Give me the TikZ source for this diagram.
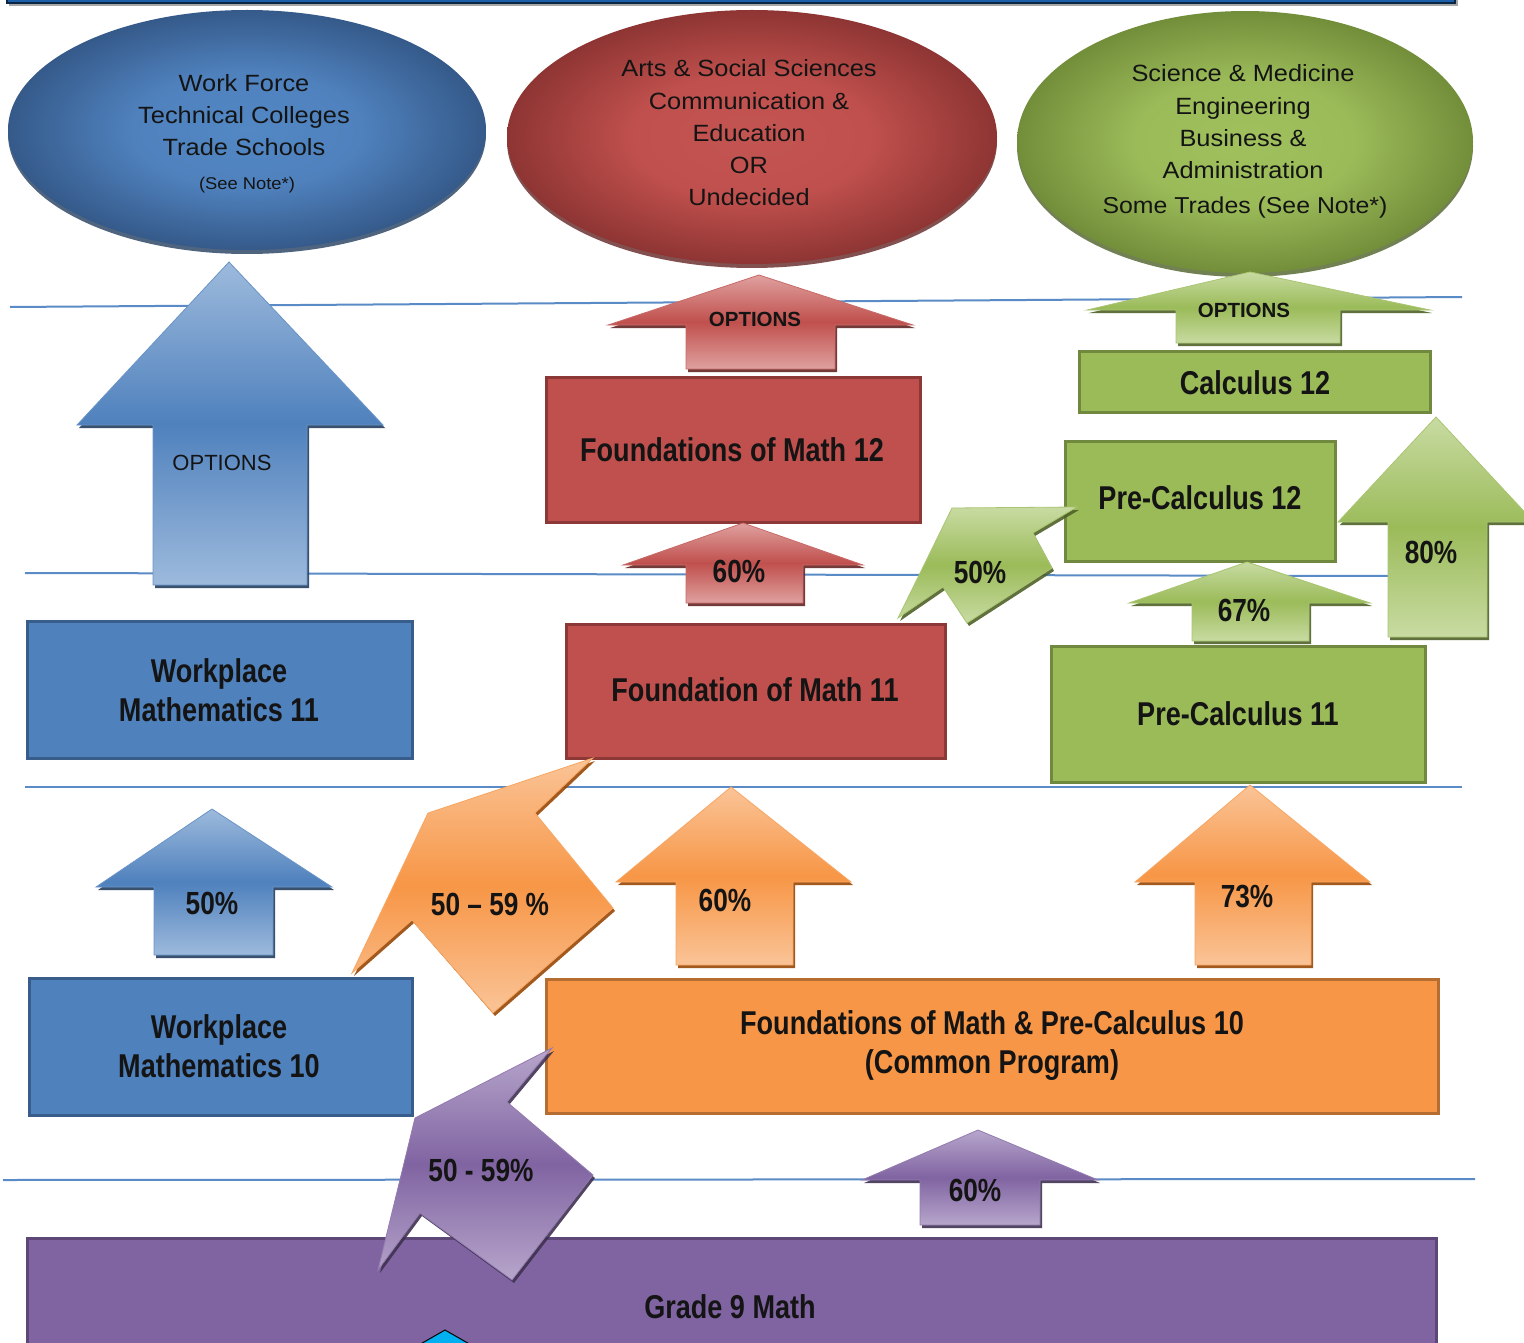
\documentclass[tikz,border=0pt]{standalone}
\usepackage{fontspec}
\setmainfont{Liberation Sans}
\newfontfamily\narrowfont[FakeStretch=0.82]{Liberation Sans}
\newfontfamily\widefont[FakeStretch=1.08]{Liberation Sans}
\usetikzlibrary{shadows}
\definecolor{bLight}{HTML}{9DBADC}
\definecolor{bBase}{HTML}{4F81BD}
\definecolor{bDark}{HTML}{243F60}
\definecolor{bBorder}{HTML}{385D8A}
\definecolor{rLight}{HTML}{DFA19F}
\definecolor{rBase}{HTML}{C0504D}
\definecolor{rDark}{HTML}{632523}
\definecolor{rBorder}{HTML}{8C3836}
\definecolor{gLight}{HTML}{C8DBA2}
\definecolor{gBase}{HTML}{9BBB59}
\definecolor{gDark}{HTML}{4F6228}
\definecolor{gBorder}{HTML}{71893F}
\definecolor{oLight}{HTML}{FAC497}
\definecolor{oBase}{HTML}{F79646}
\definecolor{oDark}{HTML}{974806}
\definecolor{oBorder}{HTML}{B66D31}
\definecolor{pLight}{HTML}{B7A6CB}
\definecolor{pBase}{HTML}{8064A2}
\definecolor{pDark}{HTML}{3F3151}
\definecolor{pBorder}{HTML}{5C4776}
\definecolor{lineblue}{HTML}{5B8BC6}
\definecolor{txt}{HTML}{141414}
\definecolor{cyanish}{HTML}{00B0F0}
\definecolor{barblue}{HTML}{1A5FA8}
\definecolor{barborder}{HTML}{0B2545}
\definecolor{ebIn}{HTML}{5288C4}
\definecolor{ebOut}{HTML}{355A8A}
\definecolor{erIn}{HTML}{C25451}
\definecolor{erOut}{HTML}{8E3533}
\definecolor{egIn}{HTML}{A0C05E}
\definecolor{egOut}{HTML}{738E3A}
\pgfdeclareradialshading{ellB}{\pgfpoint{0bp}{0bp}}{color(0bp)=(ebIn); color(12bp)=(bBase); color(25bp)=(ebOut); color(50bp)=(ebOut)}
\pgfdeclareradialshading{ellR}{\pgfpoint{0bp}{0bp}}{color(0bp)=(erIn); color(12bp)=(rBase); color(25bp)=(erOut); color(50bp)=(erOut)}
\pgfdeclareradialshading{ellG}{\pgfpoint{0bp}{0bp}}{color(0bp)=(egIn); color(12bp)=(gBase); color(25bp)=(egOut); color(50bp)=(egOut)}
\newcommand{\blockup}[9]{\path[#1] (#2,#3) -- (#6,#4) -- (#8,#4) -- (#8,#9) -- (#7,#9) -- (#7,#4) -- (#5,#4) -- cycle;}
\tikzset{
  hline/.style={draw=lineblue, line width=2pt},
  box/.style 2 args={fill=#1, draw=#2, line width=3pt},
  arr/.style n args={3}{draw=#2!85!white, line width=0.8pt, top color=#1, bottom color=#1, middle color=#2,
     drop shadow={shadow xshift=2pt, shadow yshift=-3pt, fill=#3, opacity=0.9}},
  ell/.style 2 args={shading=#1, drop shadow={shadow xshift=0pt, shadow yshift=-4pt, fill=#2, opacity=0.8}},
  boxtext/.style={font={\narrowfont\bfseries\fontsize{33}{39}\selectfont}, align=center, text=txt, inner sep=0pt},
  pct/.style={font={\narrowfont\bfseries\fontsize{32}{36}\selectfont}, text=txt, inner sep=0pt},
  opt/.style={font={\bfseries\fontsize{20.5}{24}\selectfont}, text=txt, inner sep=0pt},
  optreg/.style={font={\fontsize{22}{26}\selectfont}, text=txt, inner sep=0pt},
  elltext/.style={font={\widefont\fontsize{23.5}{32.3}\selectfont}, align=center, text=txt, inner sep=0pt},
}
\begin{document}
\begin{tikzpicture}[x=1pt,y=-1pt]
\useasboundingbox (0,0) rectangle (1524,1343);
\fill[white] (0,0) rectangle (1524,1343);
% top bar
\fill[black!35] (9,-3) rectangle (1458,6);
\path[fill=barblue, draw=barborder, line width=1.2pt] (7,-6) rectangle (1455,3);
% guide lines
\draw[hline] (10,307) -- (1462,297);
\draw[hline] (25,573) -- (1400,576);
\draw[hline] (25,787) -- (1462,787);
\draw[hline] (3,1180) -- (1475,1179);
% ellipses
\path[ell={ellB}{bDark}] (247,130) ellipse [x radius=239, y radius=120];
\path[ell={ellR}{rDark}] (752,137) ellipse [x radius=245, y radius=127];
\path[ell={ellG}{gDark}] (1245,142) ellipse [x radius=228, y radius=131];
\node[elltext] (e1) at (244,115) {Work Force\\Technical Colleges\\Trade Schools};
\node[font={\widefont\fontsize{17}{20}\selectfont}, text=txt, inner sep=0pt] (e1n) at (247,185) {(See Note*)};
\node[elltext] (e2) at (749,133) {Arts \& Social Sciences\\Communication \&\\Education\\OR\\Undecided};
\node[elltext] (e3) at (1243,122) {Science \& Medicine\\Engineering\\Business \&\\Administration};
\node[font={\widefont\fontsize{23}{28}\selectfont}, text=txt, inner sep=0pt] (e3n) at (1245,208) {Some Trades (See Note*)};
% boxes
\path[box={bBase}{bBorder}] (27,621) rectangle (412,758);
\path[box={bBase}{bBorder}] (29,978) rectangle (412,1115);
\path[box={rBase}{rBorder}] (566,624) rectangle (945,758);
\path[box={rBase}{rBorder}] (546,377) rectangle (920,522);
\path[box={oBase}{oBorder}] (546,979) rectangle (1438,1113);
\path[box={gBase}{gBorder}] (1051,646) rectangle (1425,782);
\path[box={gBase}{gBorder}] (1065,441) rectangle (1335,561);
\path[box={gBase}{gBorder}] (1079,351) rectangle (1430,412);
\path[box={pBase}{pBorder}] (27,1238) rectangle (1436,1360);
\path[fill=cyanish, draw=black, line width=1pt] (417,1346) -- (445,1330) -- (473,1346);
\node[boxtext] (wm11) at (219,690) {Workplace\\Mathematics 11};
\node[boxtext] (wm10) at (219,1046) {Workplace\\Mathematics 10};
\node[boxtext] (fm11) at (755,690) {Foundation of Math 11};
\node[boxtext] (fm12) at (732,450) {Foundations of Math 12};
\node[boxtext] (fmpc) at (992,1046) {Foundations of Math \& Pre-Calculus 10\\(Common Program)};
\node[boxtext] (pc11) at (1238,714) {Pre-Calculus 11};
\node[boxtext] (pc12) at (1200,498) {Pre-Calculus 12};
\node[boxtext] (c12) at (1255,383) {Calculus 12};
\node[boxtext] (g9) at (730,1307) {Grade 9 Math};
% straight arrows
\blockup{arr={bLight}{bBase}{bDark}}{229}{262}{425}{77}{383}{153}{307}{585}
\blockup{arr={bLight}{bBase}{bDark}}{212}{809}{887}{96}{332}{154}{273}{955}
\blockup{arr={rLight}{rBase}{rDark}}{759}{275}{325}{608}{913}{686}{835}{369}
\blockup{arr={rLight}{rBase}{rDark}}{743}{523}{565}{623}{863}{686}{803}{603}
\blockup{arr={gLight}{gBase}{gDark}}{1250}{272}{310}{1087}{1430}{1176}{1340}{343}
\blockup{arr={gLight}{gBase}{gDark}}{1247}{562}{603}{1129}{1370}{1192}{1309}{641}
\blockup{arr={gLight}{gBase}{gDark}}{1436}{417}{522}{1338}{1534}{1388}{1487}{637}
\blockup{arr={oLight}{oBase}{oDark}}{731}{787}{882}{616}{851}{676}{793}{965}
\blockup{arr={oLight}{oBase}{oDark}}{1250}{785}{882}{1135}{1370}{1195}{1311}{965}
\blockup{arr={pLight}{pBase}{pDark}}{978}{1130}{1180}{862}{1098}{920}{1040}{1225}
% diagonal arrows
\path[arr={oLight}{oBase}{oDark}] (593,758) -- (535,813) -- (613,908) -- (493,1013) -- (412,920) -- (352,973) -- (428,813) -- cycle;
\path[arr={pLight}{pBase}{pDark}] (552,1048) -- (507,1102) -- (593,1175) -- (512,1280) -- (420,1213) -- (378,1270) -- (415,1118) -- cycle;
\path[arr={gLight}{gBase}{gDark}] (1077,507) -- (1033,533) -- (1052,568) -- (967,623) -- (943,587) -- (898,618) -- (952,508) -- cycle;
% arrow labels
\node[optreg] (o1) at (222,463) {OPTIONS};
\node[opt] (o2) at (755,319) {OPTIONS};
\node[opt] (o3) at (1244,310) {OPTIONS};
\node[pct] (p1) at (212,903) {50\%};
\node[pct] (p2) at (739,571) {60\%};
\node[pct] (p3) at (1244,610) {67\%};
\node[pct] (p4) at (1431,552) {80\%};
\node[pct] (p5) at (725,900) {60\%};
\node[pct] (p6) at (1247,897) {73\%};
\node[pct] (p7) at (975,1190) {60\%};
\node[pct] (p8) at (490,904) {50 – 59 \%};
\node[pct] (p9) at (481,1170) {50 - 59\%};
\node[pct] (p10) at (980,572) {50\%};
\end{tikzpicture}
\end{document}
